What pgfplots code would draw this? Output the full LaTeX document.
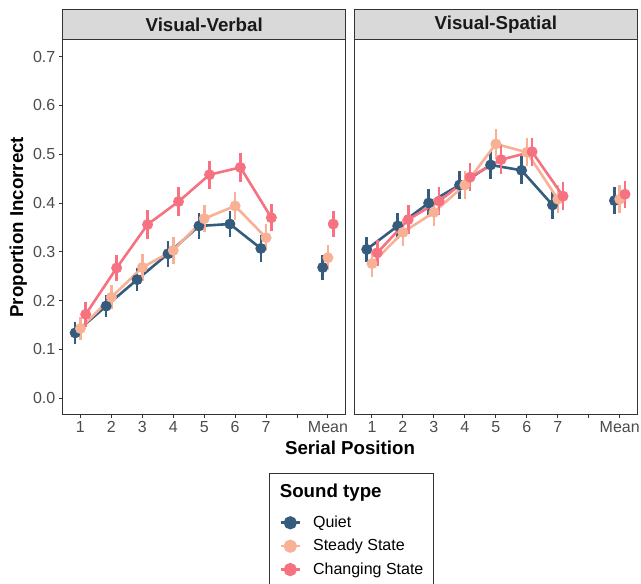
\documentclass[border=0pt]{standalone}
\usepackage{fontspec}
\setmainfont{Liberation Sans}
\usepackage{pgfplots}
\usepackage{pgfplotstable}
\pgfplotsset{compat=1.18}
\definecolor{cQ}{HTML}{355C7D}
\definecolor{cS}{HTML}{F8B195}
\definecolor{cC}{HTML}{F67280}
\definecolor{g20}{gray}{0.2}
\definecolor{g30}{gray}{0.3}
\definecolor{g85}{gray}{0.85}
\definecolor{g10}{gray}{0.1}

\pgfplotstableread{
pos q qe s se c ce
1 0.134 0.022 0.143 0.024 0.172 0.025
2 0.189 0.022 0.207 0.025 0.267 0.027
3 0.243 0.024 0.268 0.027 0.356 0.029
4 0.296 0.027 0.303 0.027 0.403 0.029
5 0.353 0.027 0.368 0.028 0.458 0.029
6 0.357 0.027 0.394 0.029 0.473 0.030
7 0.307 0.027 0.329 0.028 0.370 0.027
8 nan nan nan nan nan nan
9 0.268 0.025 0.288 0.026 0.357 0.027
}\verbal

\pgfplotstableread{
pos q qe s se c ce
1 0.305 0.026 0.276 0.027 0.298 0.027
2 0.353 0.027 0.340 0.028 0.366 0.029
3 0.400 0.028 0.381 0.029 0.404 0.029
4 0.437 0.029 0.437 0.029 0.453 0.029
5 0.478 0.029 0.521 0.030 0.489 0.030
6 0.467 0.029 0.504 0.029 0.505 0.029
7 0.396 0.029 0.408 0.029 0.414 0.029
8 nan nan nan nan nan nan
9 0.405 0.027 0.408 0.028 0.418 0.028
}\spatial

\pgfplotsset{
  panel/.style={
    width=283.4bp, height=374.3bp, scale only axis,
    anchor=south west,
    xmin=0.42, xmax=9.58, ymin=-0.0328, ymax=0.734,
    xtick={1,2,3,4,5,6,7,8,9}, xticklabels={1,2,3,4,5,6,7,,Mean},
    tick align=outside, xtick pos=bottom, ytick pos=left,
    major tick length=3.7bp,
    tick style={g20, line width=1bp},
    axis line style={g20, line width=1bp},
    tick label style={font=\fontsize{16bp}{19bp}\selectfont, text=g30},
    /pgf/number format/assume math mode=true,
    unbounded coords=jump,
    error bars/y dir=both, error bars/y explicit, error bars/error mark=none,
    error bars/error bar style={line width=2.6bp},
  },
  legimg/.style={legend image code/.code={
      \draw[##1, line width=2.6bp] (0bp,0bp) -- (19bp,0bp);
      \fill[##1] (9.5bp,0bp) circle (5.3bp);}},
  sQ/.style={color=cQ, line width=2.6bp, mark=*, mark size=4.1bp, mark options={solid}, legimg},
  sS/.style={color=cS, line width=2.6bp, mark=*, mark size=4.1bp, mark options={solid}, legimg},
  sC/.style={color=cC, line width=2.6bp, mark=*, mark size=4.1bp, mark options={solid}, legimg},
}

\begin{document}
\begin{tikzpicture}
\path[use as bounding box] (0,0) rectangle (641bp,584bp);

\begin{axis}[panel, name=p1, at={(62.5bp,169.7bp)},
  ytick={0,0.1,0.2,0.3,0.4,0.5,0.6,0.7},
  yticklabel style={/pgf/number format/.cd, fixed, fixed zerofill, precision=1},
  legend cell align=left,
  legend style={at={(axis description cs:0.7297,-0.1576)}, anchor=north west,
    draw=g20, line width=1bp, fill=white,
    inner xsep=9.7bp, inner ysep=3.7bp, row sep=0pt, column sep=12bp,
    nodes={inner sep=0pt, font=\fontsize{16bp}{19bp}\selectfont, text=black,
      text height=16.4bp, text depth=7bp},
    cells={anchor=west}},
]
\addlegendimage{legend image code/.code={}}
\addlegendentry[text height=20bp, text depth=13.6bp]{\hspace*{-33.3bp}\fontsize{18.7bp}{22bp}\selectfont\bfseries Sound type}
\addplot[sQ] table[x expr=\thisrow{pos}-0.17, y=q, y error=qe] {\verbal};
\addlegendentry{Quiet}
\addplot[sS] table[x expr=\thisrow{pos}, y=s, y error=se] {\verbal};
\addlegendentry{Steady State}
\addplot[sC] table[x expr=\thisrow{pos}+0.17, y=c, y error=ce] {\verbal};
\addlegendentry{Changing State}
\end{axis}

\begin{axis}[panel, name=p2, at={(354bp,169.7bp)}, width=283.7bp, ytick=\empty]
\addplot[sQ] table[x expr=\thisrow{pos}-0.17, y=q, y error=qe] {\spatial};
\addplot[sS] table[x expr=\thisrow{pos}, y=s, y error=se] {\spatial};
\addplot[sC] table[x expr=\thisrow{pos}+0.17, y=c, y error=ce] {\spatial};
\end{axis}

\draw[g20, fill=g85, line width=1bp] (p1.north west) rectangle ([yshift=30bp]p1.north east);
\draw[g20, fill=g85, line width=1bp] (p2.north west) rectangle ([yshift=30bp]p2.north east);
\node[font=\fontsize{18.7bp}{22bp}\selectfont\bfseries, text=g10] at ([yshift=15bp]p1.north) {Visual-Verbal};
\node[font=\fontsize{18.7bp}{22bp}\selectfont\bfseries, text=g10] at ([yshift=15bp]p2.north) {Visual-Spatial};

\node[rotate=90, font=\fontsize{18.7bp}{22bp}\selectfont\bfseries] at (18.3bp,356.8bp) {Proportion Incorrect};
\node[font=\fontsize{18.7bp}{22bp}\selectfont\bfseries] at (350bp,136.2bp) {Serial Position};
\end{tikzpicture}
\end{document}
